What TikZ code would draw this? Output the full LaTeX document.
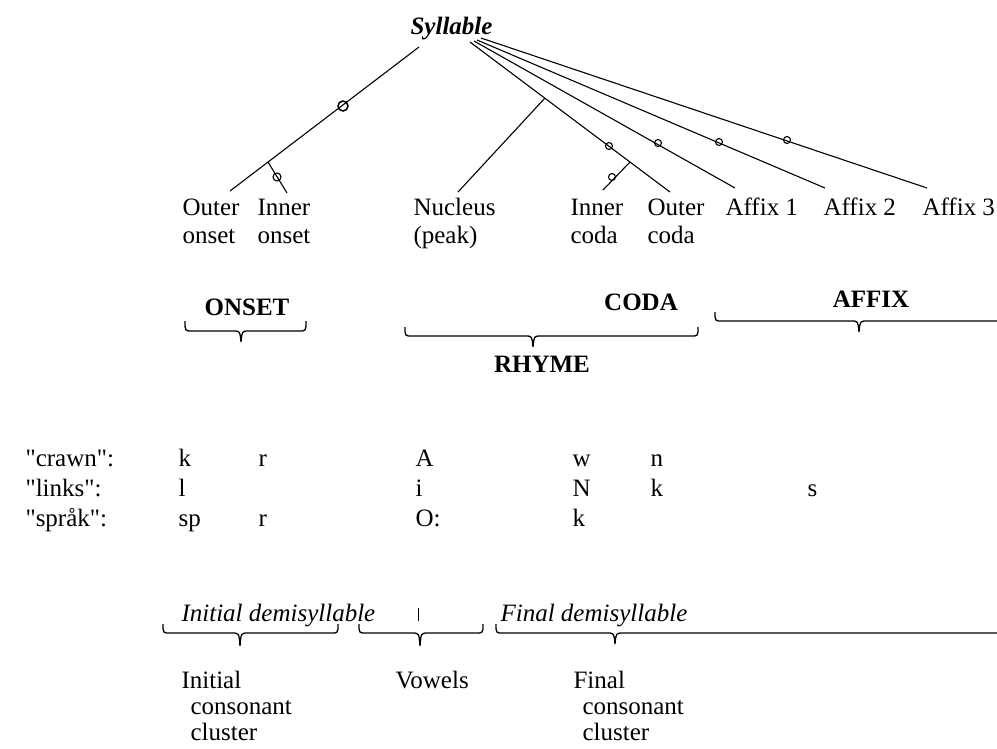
\documentclass[tikz,border=0pt]{standalone}
\usepackage{fontspec}
\setmainfont{Liberation Serif}[Ligatures=TeXOff]
\newcommand\ubrc[6]{% left, tip, right, ytop, ymid, ybot
  \draw[brc] (#1,#4) .. controls (#1,#5) .. (#1+7,#5) -- (#2-8,#5) .. controls (#2-1,#5) .. (#2,#6)
     .. controls (#2+1,#5) .. (#2+8,#5) -- (#3-7,#5) .. controls (#3,#5) .. (#3,#4);}
\newcommand\ubro[5]{% left, tip, right(open), ytop, ymid
  \draw[brc] (#1,#4) .. controls (#1,#5) .. (#1+7,#5) -- (#2-8,#5) .. controls (#2-1,#5) .. (#2,#5+11)
     .. controls (#2+1,#5) .. (#2+8,#5) -- (#3,#5);}
\begin{document}
\begin{tikzpicture}[x=1pt,y=-1pt,line width=1.1pt,
  lab/.style={anchor=base west,inner sep=0pt,font=\fontsize{25}{30}\selectfont},
  hd/.style={anchor=base,inner sep=0pt,font=\fontsize{25}{30}\selectfont\bfseries},
  bot/.style={anchor=base west,inner sep=0pt,font=\fontsize{25}{30}\selectfont},
  boti/.style={bot,font=\fontsize{25}{30}\selectfont\itshape},
  opt/.style={draw,circle,inner sep=0pt,minimum size=7pt,line width=1.1pt},
  brc/.style={line width=1.3pt}]
\useasboundingbox (0,0) rectangle (997,748);

% root
\node[anchor=base west,inner sep=0pt,font=\fontsize{25}{30}\selectfont\bfseries\itshape] (syl) at (410,34) {Syllable};

% tree coordinates
\coordinate (aL) at (419,47);
\coordinate (aC) at (470,42);
\coordinate (a1) at (474,41);
\coordinate (a2) at (477,40);
\coordinate (a3) at (481,38);
\coordinate (eOO) at (230,191);
\coordinate (jIO) at (268,162);
\coordinate (eIO) at (287,193);
\coordinate (jN) at (545,98);
\coordinate (eN) at (458,192);
\coordinate (jIC) at (630,162);
\coordinate (eIC) at (603,190);
\coordinate (eOC) at (670,192);
\coordinate (eA1) at (735,188);
\coordinate (eA2) at (825,188);
\coordinate (eA3) at (927,188);

\draw (aL) -- (eOO);
\draw (jIO) -- (eIO);
\draw (aC) -- (eOC);
\draw (jN) -- (eN);
\draw (jIC) -- (eIC);
\draw (a1) -- (eA1);
\draw (a2) -- (eA2);
\draw (a3) -- (eA3);

% optionality loops
\node[opt,minimum size=10pt,line width=1.5pt] (o1) at (343,106) {};
\node[opt,minimum size=8pt] (o2) at (277,177) {};
\node[opt] (o3) at (609,146) {};
\node[opt] (o4) at (612,177) {};
\node[opt] (o5) at (658,143) {};
\node[opt] (o6) at (719,142) {};
\node[opt] (o7) at (787,140) {};

% leaf labels
\node[lab] (l1a) at (182,215) {Outer};
\node[lab] (l1b) at (182,243) {onset};
\node[lab] (l2a) at (257,215) {Inner};
\node[lab] (l2b) at (257,243) {onset};
\node[lab] (l3a) at (413,215) {Nucleus};
\node[lab] (l3b) at (413,243) {(peak)};
\node[lab] (l4a) at (570,215) {Inner};
\node[lab] (l4b) at (570,243) {coda};
\node[lab] (l5a) at (647,215) {Outer};
\node[lab] (l5b) at (647,243) {coda};
\node[lab] (l6) at (725,215) {Affix 1};
\node[lab] (l7) at (823,215) {Affix 2};
\node[lab] (l8) at (922,215) {Affix 3};

% constituent headings and braces
\node[hd] (onset) at (247,315) {ONSET};
\ubrc{185}{241}{306}{321}{331}{342}
\node[hd] (coda) at (641,310) {CODA};
\ubrc{405}{533}{698}{327}{336}{347}
\node[hd] (rhyme) at (542,372) {RHYME};
\node[hd] (affix) at (871,307) {AFFIX};
\ubro{715}{859}{997}{312}{321}

% examples
\node[lab] (w1) at (25,466) {"crawn":};
\node[lab] (w2) at (25,496) {"links":};
\node[lab] (w3) at (25,526) {"språk":};
\node[lab] (c11) at (178,466) {k};
\node[lab] (c12) at (258,466) {r};
\node[lab] (c13) at (415,466) {A};
\node[lab] (c14) at (572,466) {w};
\node[lab] (c15) at (650,466) {n};
\node[lab] (c21) at (178,496) {l};
\node[lab] (c23) at (415,496) {i};
\node[lab] (c24) at (572,496) {N};
\node[lab] (c25) at (650,496) {k};
\node[lab] (c26) at (807,496) {s};
\node[lab] (c31) at (178,526) {sp};
\node[lab] (c32) at (258,526) {r};
\node[lab] (c33) at (415,526) {O:};
\node[lab] (c34) at (572,526) {k};

% demisyllables
\node[boti] (idemi) at (181,621) {Initial demisyllable};
\draw[line width=0.9pt] (418,608) -- (418,621);
\node[boti] (fdemi) at (500,621) {Final demisyllable};
\ubrc{163}{240}{338}{624}{633}{646}
\ubrc{359}{420}{483}{624}{633}{646}
\ubro{496}{615}{997}{624}{633}

\node[bot] (b1a) at (181,688) {Initial};
\node[bot] (b1b) at (190,714) {consonant};
\node[bot] (b1c) at (190,740) {cluster};
\node[bot] (b2) at (395,688) {Vowels};
\node[bot] (b3a) at (573,688) {Final};
\node[bot] (b3b) at (582,714) {consonant};
\node[bot] (b3c) at (582,740) {cluster};
\end{tikzpicture}
\end{document}
